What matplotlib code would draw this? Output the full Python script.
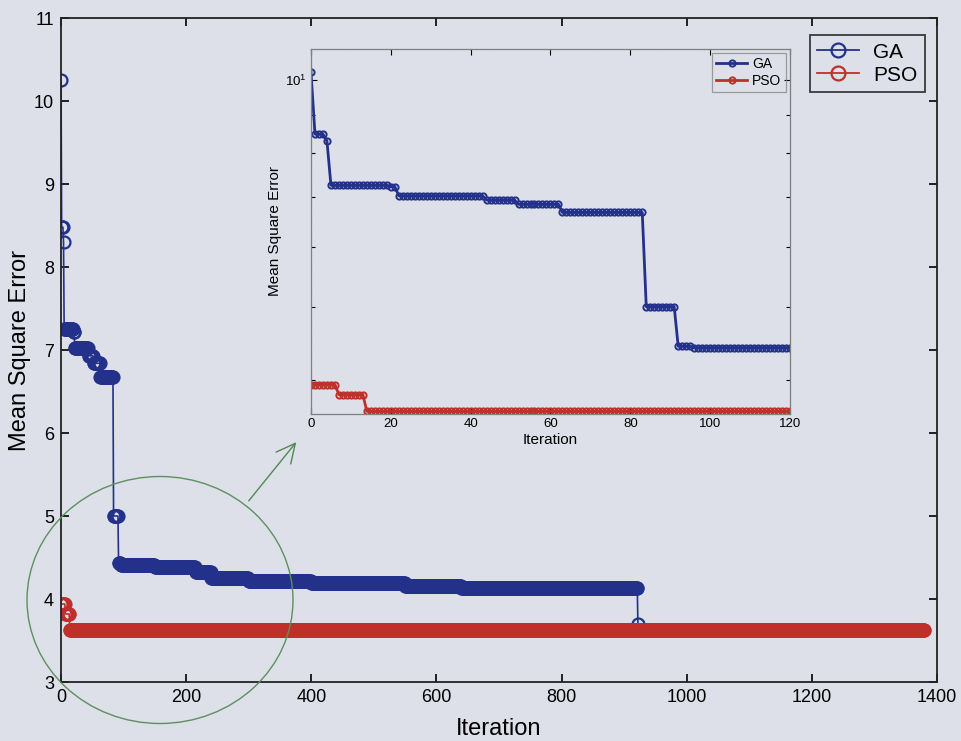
import matplotlib.pyplot as plt
import numpy as np
from matplotlib.patches import Ellipse
from matplotlib.ticker import FixedLocator, NullFormatter, LogFormatterMathtext

# GA best-so-far error, given as steps: (first iteration of the step, value)
ga_step_iter = [0, 1, 4, 5, 20, 22, 44, 52, 63, 84, 92, 96, 150, 215, 240, 300, 400, 550, 640, 922]
ga_step_val = [10.25, 8.48, 8.30, 7.25, 7.22, 7.02, 6.93, 6.84, 6.67, 5.00, 4.43, 4.41,
               4.39, 4.33, 4.25, 4.22, 4.19, 4.16, 4.13, 3.70]
ga_last_iter = 922

# PSO best-so-far error
pso_step_iter = [0, 7, 14]
pso_step_val = [3.94, 3.82, 3.63]
pso_last_iter = 1380

x_ticks = [0, 200, 400, 600, 800, 1000, 1200, 1400]
y_ticks = [3, 4, 5, 6, 7, 8, 9, 10, 11]
inset_x_ticks = [0, 20, 40, 60, 80, 100, 120]


def expand(step_iter, step_val, last_iter):
    lengths = np.diff(step_iter + [last_iter + 1])
    return np.arange(last_iter + 1), np.repeat(step_val, lengths)


ga_x, ga_y = expand(ga_step_iter, ga_step_val, ga_last_iter)
pso_x, pso_y = expand(pso_step_iter, pso_step_val, pso_last_iter)

blue = '#24318a'
red = '#c0302b'
page = '#dde0e9'

plt.rcParams['font.family'] = ['Liberation Sans', 'DejaVu Sans']

fig = plt.figure(figsize=(9.61, 7.41), dpi=100, facecolor=page)

# main chart
ax = fig.add_axes([0.0635, 0.0796, 0.9115, 0.8961])
ax.set_facecolor('none')
ax.plot(ga_x, ga_y, '-o', color=blue, ms=8.6, mfc='none', mew=1.6, lw=1.2, label='GA')
ax.plot(pso_x, pso_y, '-o', color=red, ms=8.6, mfc='none', mew=1.6, lw=1.2, label='PSO')
ax.set_xlim(0, 1400)
ax.set_ylim(3, 11)
ax.set_xticks(x_ticks)
ax.set_yticks(y_ticks)
ax.tick_params(direction='in', top=True, right=True, labelsize=13, length=6, width=1.2, pad=5)
for s in ax.spines.values():
    s.set_linewidth(1.3)
    s.set_color('#222222')
ax.set_xlabel('Iteration', fontsize=17, labelpad=9)
ax.set_ylabel('Mean Square Error', fontsize=17, labelpad=2)
leg = ax.legend(loc='upper right', bbox_to_anchor=(0.986, 0.974), borderaxespad=0, fontsize=15,
                frameon=True, fancybox=False, edgecolor='#111111', facecolor='none',
                handlelength=2.0, borderpad=0.35, labelspacing=0.2, handletextpad=0.7)
leg.get_frame().set_linewidth(1.3)
for h in leg.legend_handles:
    h.set_markersize(10)
    h.set_linewidth(1.3)

# inset: first 120 iterations on a log axis
ins = fig.add_axes([0.3236, 0.4413, 0.4984, 0.4926])
ins.set_facecolor('none')
gm = ga_x <= 120
pm = pso_x <= 120
ins.semilogy(ga_x[gm], ga_y[gm], '-o', color=blue, ms=4.5, mfc='none', mew=1.4, lw=2.0, label='GA')
ins.semilogy(pso_x[pm], pso_y[pm], '-o', color=red, ms=4.5, mfc='none', mew=1.4, lw=2.0, label='PSO')
ins.set_xlim(0, 120)
ins.set_ylim(3.6, 11)
ins.set_xticks(inset_x_ticks)
ins.yaxis.set_major_locator(FixedLocator([10]))
ins.yaxis.set_major_formatter(LogFormatterMathtext())
ins.yaxis.set_minor_locator(FixedLocator([4, 5, 6, 7, 8, 9]))
ins.yaxis.set_minor_formatter(NullFormatter())
ins.tick_params(which='both', direction='in', top=True, right=True, labelsize=9.5, width=0.8, pad=3)
ins.tick_params(which='major', length=4)
ins.tick_params(which='minor', length=3)
for s in ins.spines.values():
    s.set_linewidth(0.9)
    s.set_color('#808080')
    s.set_linestyle((0, (2, 0.6)))
ins.set_xlabel('Iteration', fontsize=11, labelpad=2)
ins.set_ylabel('Mean Square Error', fontsize=11, labelpad=2)
ileg = ins.legend(loc='upper right', fontsize=10, frameon=True, fancybox=False,
                  edgecolor='#888888', facecolor='none', handlelength=2.2,
                  borderpad=0.3, labelspacing=0.2, handletextpad=0.4, borderaxespad=0.3)
ileg.get_frame().set_linewidth(0.9)

# green circle and arrow drawn over the page
circ = Ellipse((160 / 961, 1 - 600 / 741), 266 / 961, 247 / 741, transform=fig.transFigure,
               fill=False, edgecolor='#5e8f5e', lw=1.0)
fig.patches.append(circ)
ax.annotate('', xy=(298 / 961, 1 - 440 / 741), xytext=(247 / 961, 1 - 503 / 741),
            xycoords='figure fraction', textcoords='figure fraction',
            arrowprops=dict(arrowstyle='->', color='#4f8a4f', lw=1.0, mutation_scale=34))

fig.savefig('out.png', dpi=100, facecolor=page)
